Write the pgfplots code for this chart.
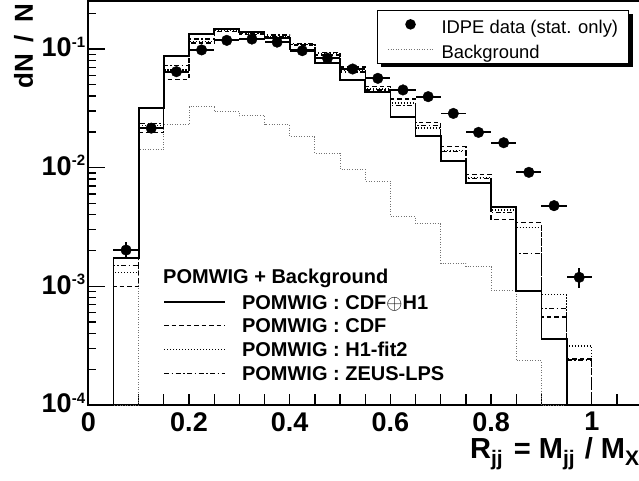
\documentclass[border=0pt]{standalone}
\usepackage{fontspec}
\setmainfont{Liberation Sans}
\usepackage{pgfplots}
\usepackage{pgfplotstable}
\pgfplotsset{compat=1.18}

\pgfplotstableread{
x solid cdf h1 zeus bkg
0.00 1e-4 1e-4 1e-4 1e-4 1e-4
0.05 0.00174 0.00100 0.00130 0.00150 1e-4
0.10 0.0316 0.0197 0.0225 0.0236 0.0141
0.15 0.0877 0.0555 0.0664 0.0722 0.0229
0.20 0.134 0.112 0.116 0.121 0.0324
0.25 0.148 0.140 0.142 0.146 0.0296
0.30 0.138 0.133 0.134 0.136 0.0274
0.35 0.124 0.127 0.128 0.131 0.0229
0.40 0.099 0.108 0.109 0.111 0.0182
0.45 0.0756 0.089 0.091 0.093 0.0132
0.50 0.0547 0.0705 0.066 0.064 0.00968
0.55 0.0435 0.0483 0.046 0.045 0.00771
0.60 0.0265 0.0378 0.035 0.0335 0.00388
0.65 0.0185 0.0240 0.0215 0.0225 0.00335
0.70 0.01143 0.0150 0.0140 0.0137 0.00156
0.75 0.0074 0.0088 0.0083 0.0081 0.00146
0.80 0.00466 0.00366 0.00440 0.00420 0.00093
0.85 0.00091 0.00343 0.00314 0.00188 0.000236
0.90 0.00036 0.00055 0.00085 0.00065 1e-4
0.95 1e-4 0.000244 0.000314 0.00024 1e-4
1.00 1e-4 1e-4 1e-4 1e-4 1e-4
1.05 1e-4 1e-4 1e-4 1e-4 1e-4
1.10 1e-4 1e-4 1e-4 1e-4 1e-4
}\hist

\pgfplotstableread{
x y ex ey
0.075 0.00202 0.025 0.00033
0.125 0.0215 0.025 0.0010
0.175 0.0643 0.025 0.0018
0.225 0.098 0.025 0.0025
0.275 0.118 0.025 0.0028
0.325 0.121 0.025 0.0028
0.375 0.114 0.025 0.0027
0.425 0.0966 0.025 0.0025
0.475 0.0835 0.025 0.0023
0.525 0.0677 0.025 0.0021
0.575 0.0565 0.025 0.0019
0.625 0.0451 0.025 0.0017
0.675 0.0396 0.025 0.0016
0.725 0.0286 0.025 0.0013
0.775 0.0198 0.025 0.0011
0.825 0.0162 0.025 0.0010
0.875 0.00912 0.025 0.0007
0.925 0.00478 0.025 0.0005
0.975 0.00119 0.025 0.00023
}\data

\tikzset{
  dashedR/.style={black, line width=1.3pt, dash pattern=on 4.5pt off 3pt},
  dottedR/.style={black, line width=1.3pt, dash pattern=on 1.2pt off 1.8pt},
  dashdotR/.style={black, line width=1.3pt, dash pattern=on 5pt off 2.5pt on 1.5pt off 2.5pt},
  bkgR/.style={black!55, line width=1pt, dash pattern=on 1pt off 1.6pt},
}
\pgfplotsset{
  bkglegend/.style={legend image code/.code={\draw[##1] (0pt,0pt) -- (45pt,0pt);}},
  datalegend/.style={legend image code/.code={\path[draw=none] (0pt,0pt) -- (45pt,0pt); \fill[black, draw=none] (22.5pt,0pt) circle (5.3pt);}},
  modellegend/.style={legend image code/.code={\draw[##1] (0pt,0pt) -- (61pt,0pt);}},
}
\newcommand{\tl}[1]{10\raisebox{9.5pt}{\fontsize{15}{15}\selectfont #1}}

\begin{document}
\begin{tikzpicture}
\path[use as bounding box] (-88.3pt,-76pt) rectangle (550.7pt,405pt);
\clip (-88.3pt,-76pt) rectangle (550.7pt,405pt);
\begin{axis}[
  at={(0pt,0pt)}, anchor=south west,
  scale only axis, width=553.85pt, height=404pt,
  xmin=0, xmax=1.1, ymode=log, ymin=1e-4, ymax=0.2532,
  axis line style={line width=1.8pt},
  tick align=inside, xtick pos=lower, ytick pos=left,
  every tick/.style={black, line width=1.3pt},
  major tick length=17pt, minor tick length=8pt,
  xtick style={/pgfplots/major tick length=11pt, /pgfplots/minor tick length=11pt},
  xtick={0,0.2,0.4,0.6,0.8,1},
  xticklabels={0,0.2,0.4,0.6,0.8,1},
  minor xtick={0.05,0.1,0.15,0.25,0.3,0.35,0.45,0.5,0.55,0.65,0.7,0.75,0.85,0.9,0.95,1.05},
  ytick={1e-4,1e-3,1e-2,1e-1},
  yticklabels={\tl{-4},\tl{-3},\tl{-2},\tl{-1}},
  minor ytick={2e-4,3e-4,4e-4,5e-4,6e-4,7e-4,8e-4,9e-4,2e-3,3e-3,4e-3,5e-3,6e-3,7e-3,8e-3,9e-3,2e-2,3e-2,4e-2,5e-2,6e-2,7e-2,8e-2,9e-2,0.2},
  tick label style={font=\bfseries\fontsize{27}{27}\selectfont},
  xticklabel style={inner sep=2pt, yshift=-5pt},
  yticklabel style={inner sep=3pt, yshift=2pt},
  legend style={at={(0.5213,0.9777)}, anchor=north west, draw=black, line width=1pt, fill=white,
    font=\fontsize{18.4}{18.4}\selectfont,
    inner xsep=10pt, inner ysep=2pt, row sep=1.3pt, column sep=8pt,
    nodes={inner sep=0pt, text height=21.3pt, text depth=2.4pt},
    cells={anchor=west}},
]
\addlegendimage{datalegend}
\addlegendentry{IDPE data (stat. only)}
\addlegendimage{bkgR, bkglegend}
\addlegendentry{Background}
\addplot[const plot, bkgR, forget plot] table[x=x, y=bkg] {\hist};
\addplot[const plot, dashedR, forget plot] table[x=x, y=cdf] {\hist};
\addplot[const plot, dottedR, forget plot] table[x=x, y=h1] {\hist};
\addplot[const plot, dashdotR, forget plot] table[x=x, y=zeus] {\hist};
\addplot[const plot, black, line width=1.8pt, forget plot] table[x=x, y=solid] {\hist};
\addplot[only marks, mark=*, mark size=5.3pt, black, forget plot,
  error bars/.cd, x dir=both, x explicit, y dir=both, y explicit,
  error bar style={line width=1.8pt, black}, error mark=none]
  table[x=x, y=y, x error=ex, y error=ey] {\data};
\end{axis}
% legend box shadow (right and bottom strips)
\fill[black] (540.2pt,391pt) rectangle (544.2pt,337.5pt);
\fill[black] (292.7pt,341.5pt) rectangle (544.2pt,337.5pt);
\begin{axis}[
  at={(0pt,0pt)}, anchor=south west,
  scale only axis, width=553.85pt, height=404pt,
  xmin=0, xmax=1.1, ymode=log, ymin=1e-4, ymax=0.2532,
  hide axis,
  modellegend,
  legend style={at={(0.1349,0.28)}, anchor=north west, draw=none, fill=none,
    font=\bfseries\fontsize{20}{20}\selectfont,
    inner xsep=0pt, inner ysep=0pt, column sep=16pt, row sep=3.7pt,
    nodes={inner sep=0pt, text height=17pt, text depth=3pt},
    cells={anchor=west}},
]
\addlegendimage{black, line width=1.8pt}
\addlegendentry{POMWIG : CDF$\oplus$H1}
\addlegendimage{dashedR}
\addlegendentry{POMWIG : CDF}
\addlegendimage{dottedR}
\addlegendentry{POMWIG : H1-fit2}
\addlegendimage{dashdotR}
\addlegendentry{POMWIG : ZEUS-LPS}
\end{axis}
\node[anchor=base west, font=\bfseries\fontsize{20}{20}\selectfont, inner sep=0pt] at (74.7pt,121pt) {POMWIG + Background};
\node[anchor=base west, font=\bfseries\fontsize{29}{29}\selectfont, inner sep=0pt] at (381.7pt,-53pt) {R\raisebox{-7pt}{\fontsize{21}{21}\selectfont jj}\hspace{3pt} = M\raisebox{-7pt}{\fontsize{21}{21}\selectfont jj}\hspace{2pt} / M\raisebox{-7pt}{\fontsize{21}{21}\selectfont X}};
\node[rotate=90, anchor=base west, font=\bfseries\fontsize{26}{26}\selectfont, inner sep=0pt] at (-55.3pt,316pt) {dN\hspace{12pt}/\hspace{12pt}N};
\end{tikzpicture}
\end{document}
